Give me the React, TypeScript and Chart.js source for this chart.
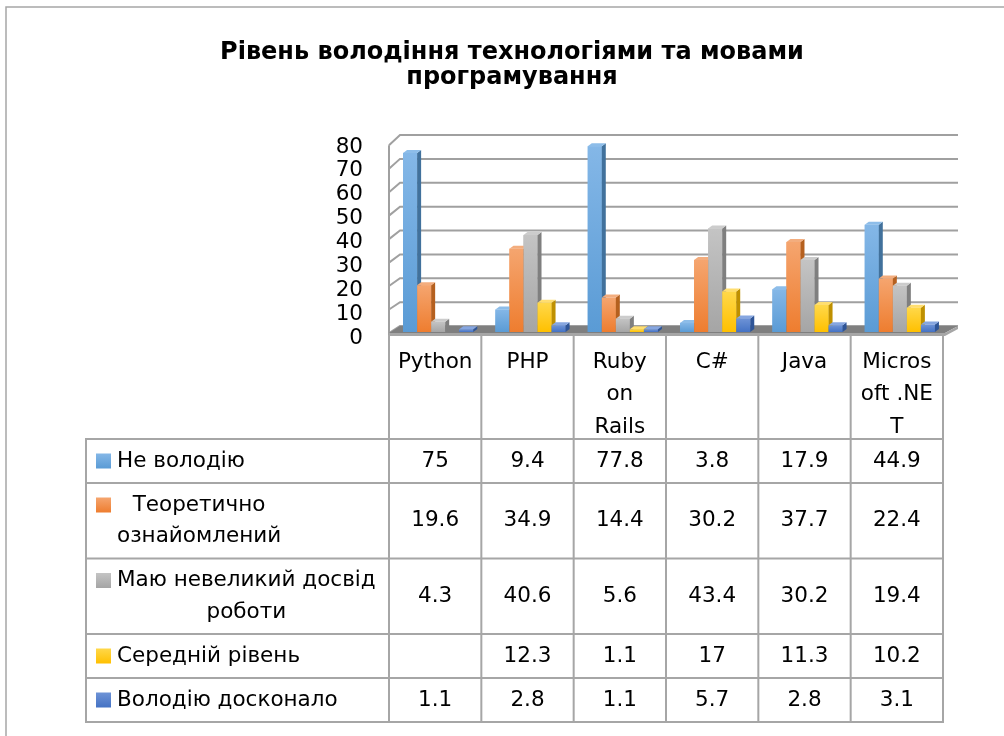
import { useEffect, useRef } from "react";
import { Chart, registerables } from "chart.js";

Chart.register(...registerables);

const TITLE = ["Рівень володіння технологіями та мовами", "програмування"];
const CATEGORIES = ["Python", "PHP", "Ruby on Rails", "C#", "Java", "Microsoft .NET"];
const CATEGORY_LINES = [["Python"], ["PHP"], ["Ruby", "on", "Rails"], ["C#"], ["Java"], ["Micros", "oft .NE", "T"]];
const SERIES_NAMES = [
  "Не володію",
  "Теоретично ознайомлений",
  "Маю невеликий досвід роботи",
  "Середній рівень",
  "Володію досконало",
];
const SERIES_LINES = [
  ["Не володію"],
  ["Теоретично", "ознайомлений"],
  ["Маю невеликий досвід", "роботи"],
  ["Середній рівень"],
  ["Володію досконало"],
];
const NE_VOLODIYU = [75, 9.4, 77.8, 3.8, 17.9, 44.9];
const TEORETYCHNO = [19.6, 34.9, 14.4, 30.2, 37.7, 22.4];
const MAYU_DOSVID = [4.3, 40.6, 5.6, 43.4, 30.2, 19.4];
const SEREDNIY = [null, 12.3, 1.1, 17, 11.3, 10.2];
const DOSKONALO = [1.1, 2.8, 1.1, 5.7, 2.8, 3.1];
const SERIES_VALUES = [NE_VOLODIYU, TEORETYCHNO, MAYU_DOSVID, SEREDNIY, DOSKONALO];
const Y_MIN = 0;
const Y_MAX = 80;
const Y_STEP = 10;

const FRONT_TOP = ["#84b7e7", "#f5a56f", "#c4c4c4", "#ffd84a", "#6e93d6"];
const FRONT_BOTTOM = ["#5a9bd5", "#ee7d2f", "#a5a5a5", "#ffc000", "#4472c4"];
const SIDE = ["#41719c", "#b5601f", "#7f7f7f", "#bf9000", "#2f5597"];
const TOP = ["#8dbde9", "#f3ad7e", "#cccccc", "#ffde70", "#86a6e0"];

const FONT = '"DejaVu Sans", "Noto Sans", sans-serif';
const TEXT_SIZE = 21.5;
const LINE_COLOR = "#a6a6a6";

const BAR_DX = 4;
const BAR_DY = -3;
const WALL_DX = 11;
const WALL_DY = -6;
const SHIFT = 3;

const threeDPlugin = {
  id: "threeD",
  beforeDraw(chart: any) {
    const ctx = chart.ctx;
    ctx.save();
    ctx.strokeStyle = LINE_COLOR;
    ctx.lineWidth = 1.5;
    ctx.beginPath();
    ctx.moveTo(6, chart.height);
    ctx.lineTo(6, 7);
    ctx.lineTo(chart.width, 7);
    ctx.stroke();
    ctx.restore();
  },
  beforeDatasetsDraw(chart: any) {
    const ctx = chart.ctx;
    const ys = chart.scales.y;
    const area = chart.chartArea;
    const fl = area.left - SHIFT;
    const fr = area.right - 1;
    const bl = fl + WALL_DX;
    const br = fr + WALL_DX + 2;
    const front = (v: number) => ys.getPixelForValue(v) + 1 + v * 0.04;
    const back = (v: number) => ys.getPixelForValue(v) + WALL_DY;
    ctx.save();
    ctx.strokeStyle = "#a0a0a0";
    ctx.lineWidth = 2;
    for (let v = Y_MIN; v <= Y_MAX; v += Y_STEP) {
      ctx.beginPath();
      ctx.moveTo(fl, front(v));
      ctx.lineTo(bl, back(v));
      ctx.lineTo(br, back(v));
      ctx.stroke();
    }
    ctx.beginPath();
    ctx.moveTo(fl, front(Y_MAX));
    ctx.lineTo(fl, front(0) + 3);
    ctx.stroke();
    const f0 = front(0);
    const b0 = back(0);
    ctx.fillStyle = "#7f7f7f";
    ctx.beginPath();
    ctx.moveTo(fl, f0);
    ctx.lineTo(fr, f0);
    ctx.lineTo(br, b0);
    ctx.lineTo(bl, b0);
    ctx.closePath();
    ctx.fill();
    ctx.fillStyle = "#a6a6a6";
    ctx.fillRect(fl, f0, fr - fl, 3);
    ctx.beginPath();
    ctx.moveTo(fr, f0);
    ctx.lineTo(br, b0);
    ctx.lineTo(br, b0 + 3);
    ctx.lineTo(fr, f0 + 3);
    ctx.closePath();
    ctx.fill();
    ctx.restore();
  },
  afterDatasetsDraw(chart: any) {
    const ctx = chart.ctx;
    ctx.save();
    const n = chart.data.labels.length;
    for (let j = 0; j < n; j++) {
      chart.data.datasets.forEach((ds: any, i: number) => {
        const meta = chart.getDatasetMeta(i);
        const el = meta.data[j];
        if (!el || ds.data[j] == null) return;
        const { x, y, base, width } = el.getProps(["x", "y", "base", "width"], true);
        const l = x - width / 2;
        const r = x + width / 2;
        ctx.fillStyle = el.options.backgroundColor;
        ctx.fillRect(l, y, width, base - y);
        ctx.fillStyle = SIDE[i];
        ctx.beginPath();
        ctx.moveTo(r, y);
        ctx.lineTo(r + BAR_DX, y + BAR_DY);
        ctx.lineTo(r + BAR_DX, base + BAR_DY);
        ctx.lineTo(r, base);
        ctx.closePath();
        ctx.fill();
        ctx.fillStyle = TOP[i];
        ctx.beginPath();
        ctx.moveTo(l, y);
        ctx.lineTo(l + BAR_DX, y + BAR_DY);
        ctx.lineTo(r + BAR_DX, y + BAR_DY);
        ctx.lineTo(r, y);
        ctx.closePath();
        ctx.fill();
      });
    }
    ctx.restore();
  },
  afterDraw(chart: any) {
    const ctx = chart.ctx;
    const xs = chart.scales.x;
    const ys = chart.scales.y;
    const n = chart.data.labels.length;
    const half = (xs.getPixelForValue(1) - xs.getPixelForValue(0)) / 2;
    const bounds: number[] = [];
    for (let i = 0; i <= n; i++) bounds.push(xs.getPixelForValue(0) - half - SHIFT + i * 2 * half);
    const headerTop = ys.getPixelForValue(0) + 3;
    const headerBottom = 439;
    const tableLeft = 86;
    const lineH = 31.5;
    const rowHeights = SERIES_LINES.map((ls) => (ls.length === 1 ? 44 : 75.5));
    const rowTops: number[] = [headerBottom];
    rowHeights.forEach((h) => rowTops.push(rowTops[rowTops.length - 1] + h));
    const tableBottom = rowTops[rowTops.length - 1];

    ctx.save();
    ctx.strokeStyle = LINE_COLOR;
    ctx.lineWidth = 2;
    ctx.beginPath();
    bounds.forEach((bx) => {
      ctx.moveTo(bx, headerTop);
      ctx.lineTo(bx, tableBottom);
    });
    ctx.moveTo(tableLeft, headerBottom);
    ctx.lineTo(tableLeft, tableBottom);
    rowTops.forEach((ry) => {
      ctx.moveTo(tableLeft - 1, ry);
      ctx.lineTo(bounds[n] + 1, ry);
    });
    ctx.stroke();

    ctx.fillStyle = "#000";
    ctx.font = `${TEXT_SIZE}px ${FONT}`;
    ctx.textBaseline = "middle";
    ctx.textAlign = "center";
    CATEGORY_LINES.forEach((lines, j) => {
      const cx = (bounds[j] + bounds[j + 1]) / 2;
      lines.forEach((t, k) => ctx.fillText(t, cx, 362 + k * 32.5));
    });

    SERIES_LINES.forEach((lines, i) => {
      const top = rowTops[i];
      const h = rowHeights[i];
      const mid = top + h / 2;
      const first = mid - ((lines.length - 1) / 2) * lineH;
      const maxW = Math.max(...lines.map((t) => ctx.measureText(t).width));
      ctx.textAlign = "center";
      lines.forEach((t, k) => ctx.fillText(t, 117 + maxW / 2, first + k * lineH));
      const g = ctx.createLinearGradient(0, first - 7.5, 0, first + 7.5);
      g.addColorStop(0, FRONT_TOP[i]);
      g.addColorStop(1, FRONT_BOTTOM[i]);
      ctx.fillStyle = g;
      ctx.fillRect(96, first - 7.5, 15, 15);
      ctx.fillStyle = "#000";
      SERIES_VALUES[i].forEach((v, j) => {
        if (v == null) return;
        ctx.fillText(String(v), (bounds[j] + bounds[j + 1]) / 2, mid);
      });
    });
    ctx.restore();
  },
};

export default function App() {
  const ref = useRef<HTMLCanvasElement | null>(null);
  useEffect(() => {
    if (!ref.current) return;
    const chart = new Chart(ref.current, {
      type: "bar",
      data: {
        labels: CATEGORIES,
        datasets: SERIES_VALUES.map((vals, i) => ({
          label: SERIES_NAMES[i],
          data: vals as any,
          borderWidth: 0,
          backgroundColor: (c: any) => {
            const ys = c.chart.scales?.y;
            const v = c.raw;
            if (!ys || v == null || c.type !== "data") return FRONT_BOTTOM[i];
            const top = ys.getPixelForValue(v);
            const bot = ys.getPixelForValue(0);
            if (!isFinite(top) || !isFinite(bot) || Math.abs(bot - top) < 0.5) return FRONT_BOTTOM[i];
            const g = c.chart.ctx.createLinearGradient(0, top, 0, bot);
            g.addColorStop(0, FRONT_TOP[i]);
            g.addColorStop(1, FRONT_BOTTOM[i]);
            return g;
          },
          categoryPercentage: 0.76,
          barPercentage: 1,
        })),
      },
      options: {
        animation: false,
        responsive: false,
        layout: { padding: { left: 78, right: 58, top: 40.5, bottom: 404 } },
        plugins: {
          legend: { display: false },
          tooltip: { enabled: false },
          title: {
            display: true,
            text: TITLE,
            color: "#000",
            font: { family: FONT, size: 24, weight: "bold", lineHeight: "25px" } as any,
            padding: { top: 0, bottom: 50.5 },
          },
        },
        scales: {
          x: { display: false, offset: true },
          y: {
            min: Y_MIN,
            max: Y_MAX,
            ticks: {
              stepSize: Y_STEP,
              autoSkip: false,
              color: "#000",
              font: { family: FONT, size: TEXT_SIZE },
              padding: 29,
              labelOffset: 6,
            },
            grid: { display: false, drawTicks: false },
            border: { display: false },
            afterFit: (s: any) => {
              s.width = 314;
            },
          },
        },
      },
      plugins: [threeDPlugin],
    });
    return () => chart.destroy();
  }, []);
  return (
    <div style={{ position: "fixed", left: 0, top: 0, width: 1004, height: 736, background: "#fff" }}>
      <canvas ref={ref} width={1004} height={736} style={{ width: 1004, height: 736, display: "block" }} />
    </div>
  );
}
